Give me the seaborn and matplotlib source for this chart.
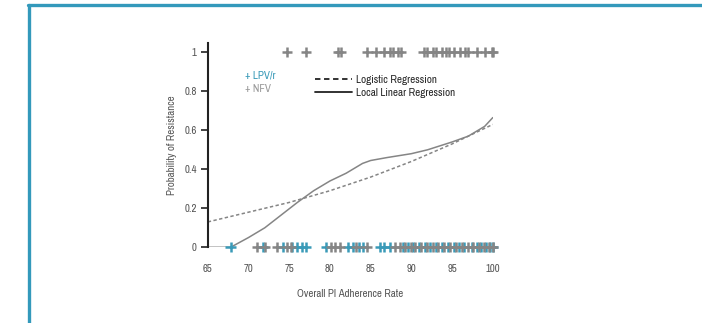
import numpy as np
import pandas as pd
import matplotlib
matplotlib.use("Agg")
import matplotlib.pyplot as plt
import seaborn as sns
from matplotlib.lines import Line2D
from matplotlib import font_manager

sns.set_style("white")
# pick a narrow/condensed face if one is installed
names = sorted({f.name for f in font_manager.fontManager.ttflist})
narrow = [n for n in names if 'Narrow' in n or 'Condensed' in n]
plt.rcParams['font.family'] = narrow[:1] + ['Liberation Sans', 'DejaVu Sans']
plt.rcParams['font.stretch'] = 'condensed'

TEAL = '#3a9ab8'
GRAY = '#858585'
FRAME = '#3399bb'
TXT = '#555555'

# Observed outcomes (resistance = 1 / 0) by regimen
lpv_x0 = [67.8, 71.8, 74.2, 75.3, 75.9, 76.6, 77.0, 79.5, 82.2, 82.8, 83.6, 84.1,
          86.2, 86.7, 87.4, 89.0, 89.6, 90.2, 90.9, 91.7, 92.3, 93.0, 93.8, 94.5,
          95.2, 95.8, 96.5, 97.5, 98.0, 98.6, 99.2, 99.7, 100.0]
nfv_x0 = [71.0, 72.0, 73.5, 74.7, 75.2, 80.1, 80.6, 81.2, 83.2, 84.5, 88.0, 88.6,
          89.2, 89.9, 90.5, 91.2, 91.9, 92.6, 93.3, 94.0, 94.8, 95.5, 96.2, 96.9,
          97.6, 98.3, 98.9, 99.5, 100.0]
nfv_x1 = [74.7, 77.1, 81.0, 81.3, 84.6, 85.7, 86.7, 87.4, 87.8, 88.3, 88.7, 91.5,
          91.9, 92.6, 93.0, 93.8, 94.2, 94.6, 95.2, 96.0, 96.6, 97.0, 98.1, 99.1,
          99.9, 100.0]

# Fitted curves
logit_x = [65, 70, 75, 80, 85, 90, 95, 100]
logit_y = [0.13, 0.18, 0.23, 0.29, 0.36, 0.44, 0.53, 0.63]
loc_x = [65, 67.8, 70, 72, 74, 76, 78, 80, 82, 84, 85, 87, 90, 92, 95, 97, 99, 100]
loc_y = [0.0, 0.0, 0.05, 0.10, 0.165, 0.23, 0.29, 0.34, 0.38, 0.43, 0.445, 0.46,
         0.48, 0.50, 0.54, 0.57, 0.62, 0.665]

x_ticks = [65, 70, 75, 80, 85, 90, 95, 100]
y_ticks = [0, 0.2, 0.4, 0.6, 0.8, 1]
y_ticklabels = ['0', '0.2', '0.4', '0.6', '0.8', '1']

# LPV/r first so the NFV marks sit on top where they overlap
pts = pd.DataFrame({
    'rate': lpv_x0 + nfv_x0 + nfv_x1,
    'resist': [0] * len(lpv_x0) + [0] * len(nfv_x0) + [1] * len(nfv_x1),
    'group': ['LPV/r'] * len(lpv_x0) + ['NFV'] * (len(nfv_x0) + len(nfv_x1)),
})

fig = plt.figure(figsize=(7.02, 3.23), dpi=100)
ax = fig.add_axes([0.296, 0.2344, 0.406, 0.634])

sns.lineplot(x=logit_x, y=logit_y, ax=ax, color=GRAY, linestyle=(0, (2.2, 1.6)), linewidth=1.1)
sns.lineplot(x=loc_x, y=loc_y, ax=ax, color=GRAY, linewidth=1.1)
sns.scatterplot(data=pts, x='rate', y='resist', hue='group',
                palette={'NFV': GRAY, 'LPV/r': TEAL}, marker='+', s=55,
                linewidth=1.8, ax=ax, legend=False, clip_on=False, zorder=3)

ax.set_xlim(65, 100)
ax.set_ylim(0, 1.05)
ax.set_xticks(x_ticks)
ax.set_yticks(y_ticks)
ax.set_yticklabels(y_ticklabels)
ax.tick_params(axis='x', length=0, pad=12, labelsize=7.8, labelcolor=TXT)
ax.tick_params(axis='y', length=5, width=1.2, color='#222222', pad=3, labelsize=7.8,
               labelcolor=TXT, left=True)
for s in ['top', 'right', 'bottom']:
    ax.spines[s].set_visible(False)
ax.spines['left'].set_color('#222222')
ax.spines['left'].set_linewidth(1.5)

ax.set_xlabel('Overall PI Adherence Rate', fontsize=7.8, color=TXT, labelpad=11)
ax.set_ylabel('Probability of Resistance', fontsize=7.8, color=TXT, labelpad=5)

# marker legend
ax.text(0.13, 0.84, '+ LPV/r', transform=ax.transAxes, fontsize=8, color=TEAL, va='center')
ax.text(0.13, 0.775, '+ NFV', transform=ax.transAxes, fontsize=8, color='#999999', va='center')

handles = [Line2D([], [], color='#222222', linestyle=(0, (3, 2)), linewidth=1.3),
           Line2D([], [], color='#222222', linewidth=1.3)]
ax.legend(handles, ['Logistic Regression', 'Local Linear Regression'], loc='upper left',
          bbox_to_anchor=(0.36, 0.862), frameon=False, fontsize=8, handlelength=3.3,
          handletextpad=0.4, labelspacing=0.22, borderaxespad=0)

# outer frame
fig.add_artist(Line2D([28 / 702, 1.0], [1 - 4.5 / 323] * 2, transform=fig.transFigure,
                      color=FRAME, linewidth=2.4))
fig.add_artist(Line2D([29 / 702] * 2, [0, 1 - 4.5 / 323], transform=fig.transFigure,
                      color=FRAME, linewidth=2.4))

fig.savefig('out.png', dpi=100, facecolor='white')
